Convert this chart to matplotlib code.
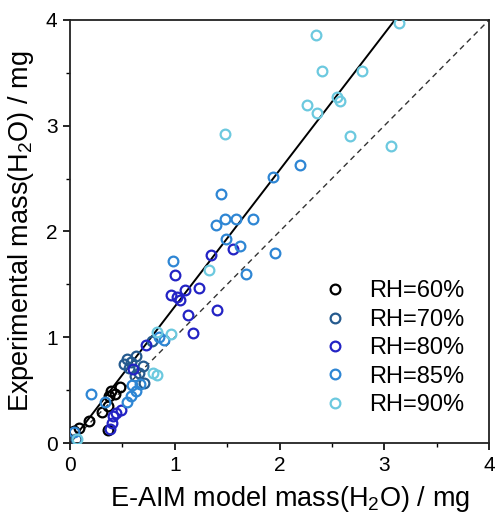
import matplotlib
matplotlib.use("Agg")
import matplotlib.pyplot as plt
from matplotlib.ticker import MultipleLocator

plt.rcParams['font.family'] = ['Liberation Sans', 'DejaVu Sans']
plt.rcParams['mathtext.fontset'] = 'custom'
plt.rcParams['mathtext.rm'] = 'Liberation Sans'

# E-AIM model water mass vs. measured water mass, grouped by relative humidity
rh60_x = [0.04, 0.09, 0.18, 0.31, 0.36, 0.36, 0.37, 0.39, 0.43, 0.48]
rh60_y = [0.11, 0.14, 0.21, 0.29, 0.35, 0.12, 0.44, 0.49, 0.46, 0.53]

rh70_x = [0.06, 0.52, 0.54, 0.56, 0.58, 0.63, 0.62, 0.66, 0.70, 0.78, 0.71]
rh70_y = [0.04, 0.75, 0.79, 0.71, 0.77, 0.82, 0.63, 0.66, 0.73, 0.96, 0.57]

rh80_x = [0.38, 0.40, 0.41, 0.44, 0.49, 0.60, 0.73, 0.96, 1.00, 1.02, 1.05,
          1.10, 1.23, 1.13, 1.17, 1.40, 1.35, 1.56]
rh80_y = [0.13, 0.19, 0.26, 0.28, 0.31, 0.70, 0.93, 1.40, 1.59, 1.38, 1.35,
          1.45, 1.47, 1.21, 1.04, 1.26, 1.78, 1.83]

rh85_x = [0.04, 0.20, 0.33, 0.54, 0.58, 0.63, 0.67, 0.59, 0.85, 0.90, 0.98,
          1.39, 1.48, 1.58, 1.75, 1.49, 1.62, 1.44, 1.94, 2.20, 1.96, 1.68]
rh85_y = [0.10, 0.46, 0.39, 0.39, 0.44, 0.49, 0.56, 0.55, 1.00, 0.97, 1.72,
          2.06, 2.12, 2.12, 2.12, 1.93, 1.86, 2.35, 2.52, 2.63, 1.80, 1.60]

rh90_x = [0.07, 0.79, 0.83, 0.83, 0.96, 1.33, 1.48, 2.26, 2.35, 2.36, 2.41,
          2.55, 2.58, 2.67, 2.79, 3.06, 3.14]
rh90_y = [0.04, 0.66, 0.64, 1.05, 1.03, 1.64, 2.92, 3.20, 3.86, 3.12, 3.52,
          3.27, 3.23, 2.90, 3.52, 2.81, 3.97]

series_labels = ['RH=60%', 'RH=70%', 'RH=80%', 'RH=85%', 'RH=90%']
series_colors = ['#000000', '#255a8e', '#2323c4', '#2e86d4', '#6cc9df']

fit_slope = 1.29
axis_max = 4.0

fig = plt.figure(figsize=(4.98, 5.19), dpi=100)
ax = fig.add_axes([0.1406, 0.1464, 0.8414, 0.8151])

# 1:1 reference and fitted line
ax.plot([0, axis_max], [0, axis_max], linestyle=(0, (4, 3)), color='#333333',
        linewidth=1.0, zorder=1)
ax.plot([0, axis_max / fit_slope], [0, axis_max], color='black',
        linewidth=1.4, zorder=1)

data = [(rh60_x, rh60_y), (rh70_x, rh70_y), (rh80_x, rh80_y),
        (rh85_x, rh85_y), (rh90_x, rh90_y)]
for (xs, ys), lab, col in zip(data, series_labels, series_colors):
    ax.plot(xs, ys, linestyle='none', marker='o', markersize=7,
            markerfacecolor='none', markeredgecolor=col,
            markeredgewidth=1.6, label=lab, zorder=3)

ax.set_xlim(0, axis_max)
ax.set_ylim(0, axis_max)
ax.xaxis.set_major_locator(MultipleLocator(1))
ax.yaxis.set_major_locator(MultipleLocator(1))
ax.xaxis.set_minor_locator(MultipleLocator(0.5))
ax.yaxis.set_minor_locator(MultipleLocator(0.5))
ax.tick_params(which='major', direction='out', length=5, width=1.2,
               labelsize=15, top=False, right=False, pad=4)
ax.tick_params(which='minor', direction='out', length=3, width=1.0,
               top=False, right=False)
for sp in ax.spines.values():
    sp.set_linewidth(1.3)
    sp.set_color('#222222')

ax.set_xlabel(r'E-AIM model mass(H$_{\mathrm{2}}$O) / mg', fontsize=19.5)
ax.xaxis.set_label_coords(0.525, -0.098)
ax.set_ylabel(r'Experimental mass(H$_{\mathrm{2}}$O) / mg', fontsize=19.5,
              labelpad=7)

ax.legend(loc='lower right', bbox_to_anchor=(0.98, 0.025), frameon=False,
          fontsize=17, handletextpad=0.85, labelspacing=0.27,
          handlelength=1.2, borderaxespad=0.3)

fig.savefig('out.png', dpi=100)
